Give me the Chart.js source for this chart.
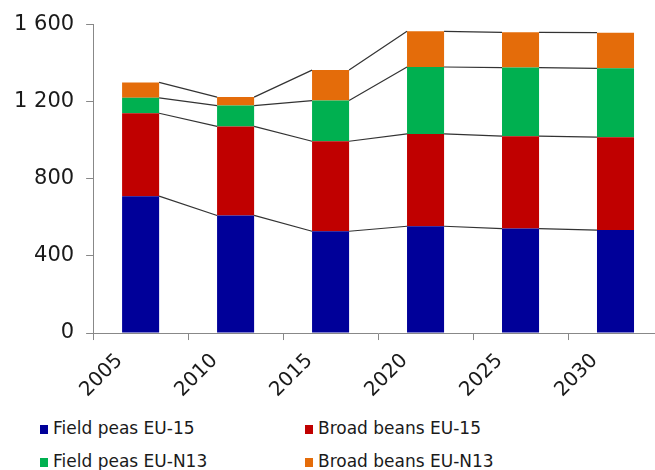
<!DOCTYPE html>
<html>
<head>
<meta charset="utf-8">
<script src="https://cdn.jsdelivr.net/npm/chart.js@4.4.0/dist/chart.umd.min.js"></script>
<style>
  html, body { margin: 0; padding: 0; overflow: hidden; background: #fff; }
  #wrap { position: relative; width: 670px; height: 470px; }
  #box { position: absolute; left: 0; top: 0; width: 670px; height: 411px; }
  .leg { position: absolute; font-family: "DejaVu Sans", sans-serif; font-size: 17px; color: #1a1a1a; white-space: nowrap; line-height: 20px; }
  .leg i { display: inline-block; width: 8px; height: 9px; margin-right: 5px; vertical-align: 0px; }
</style>
</head>
<body>
<div id="wrap">
  <div id="box"><canvas id="myChart"></canvas></div>
  <div id="legend"></div>
</div>
<script>
const years = ['2005', '2010', '2015', '2020', '2025', '2030'];
const fieldPeasEU15 = [710, 610, 528, 554, 542, 534];
const broadBeansEU15 = [430, 462, 467, 479, 479, 482];
const fieldPeasN13 = [80, 108, 211, 347, 356, 357];
const broadBeansN13 = [80, 44, 158, 185, 183, 185];
const yTicks = [0, 400, 800, 1200, 1600];

const names = ['Field peas EU-15', 'Broad beans EU-15', 'Field peas EU-N13', 'Broad beans EU-N13'];
const colors = ['#000099', '#C00000', '#00B050', '#E46C0A'];
const series = [fieldPeasEU15, broadBeansEU15, fieldPeasN13, broadBeansN13];

// lines joining the tops of the stacked segments, bar edge to bar edge
const connectors = {
  id: 'connectors',
  afterDatasetsDraw(chart) {
    const c = chart.ctx;
    c.save();
    c.strokeStyle = '#333';
    c.lineWidth = 1.2;
    chart.data.datasets.forEach((ds, d) => {
      const bars = chart.getDatasetMeta(d).data;
      c.beginPath();
      for (let i = 0; i < bars.length - 1; i++) {
        const a = bars[i], b = bars[i + 1];
        c.moveTo(a.x + a.width / 2, a.y);
        c.lineTo(b.x - b.width / 2, b.y);
      }
      c.stroke();
    });
    c.restore();
  }
};

const ctx = document.getElementById('myChart').getContext('2d');
new Chart(ctx, {
  type: 'bar',
  data: {
    labels: years,
    datasets: series.map((s, i) => ({
      label: names[i],
      data: s,
      backgroundColor: colors[i],
      barPercentage: 0.39,
      categoryPercentage: 1
    }))
  },
  options: {
    responsive: true,
    maintainAspectRatio: false,
    animation: false,
    layout: { padding: { top: 12, right: 7, left: 2, bottom: 0 } },
    plugins: { legend: { display: false }, tooltip: { enabled: false } },
    scales: {
      x: {
        stacked: true,
        grid: { drawOnChartArea: false, tickLength: 7, color: '#888' },
        border: { color: '#888' },
        ticks: {
          maxRotation: 45, minRotation: 45, labelOffset: -21, padding: 9,
          color: '#1a1a1a', font: { family: 'DejaVu Sans', size: 20 }
        }
      },
      y: {
        stacked: true,
        min: 0, max: 1600,
        afterBuildTicks: axis => { axis.ticks = yTicks.map(v => ({ value: v })); },
        grid: { drawOnChartArea: false, tickLength: 7, color: '#888' },
        border: { color: '#888' },
        ticks: {
          padding: 12, color: '#1a1a1a', font: { family: 'DejaVu Sans', size: 21 },
          callback: v => String(v).replace(/\B(?=(\d{3})+(?!\d))/g, ' ')
        }
      }
    }
  },
  plugins: [connectors]
});

// legend in two columns under the chart
const legPos = [[40, 418], [305, 418], [40, 451], [305, 451]];
document.getElementById('legend').innerHTML = names.map((n, i) =>
  '<div class="leg" style="left:' + legPos[i][0] + 'px;top:' + legPos[i][1] + 'px">' +
  '<i style="background:' + colors[i] + '"></i>' + n + '</div>').join('');
</script>
</body>
</html>
